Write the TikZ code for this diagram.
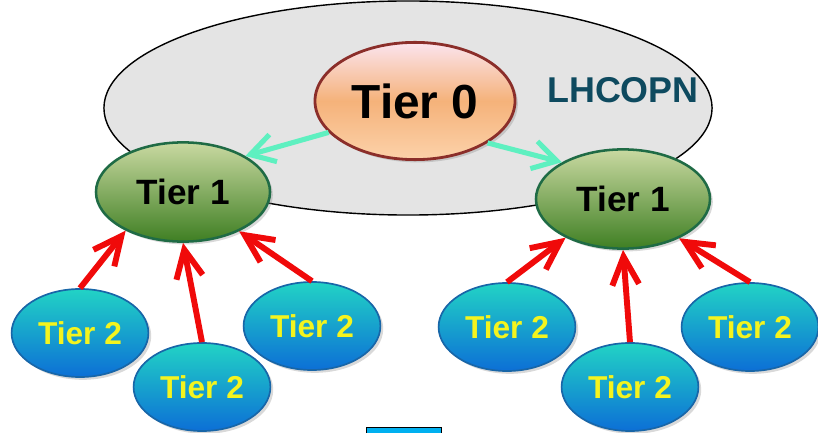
\documentclass[tikz,border=0pt]{standalone}
\usepackage{fontspec}
\setmainfont{Liberation Sans}
\usepackage{xcolor}
\usetikzlibrary{positioning, arrows.meta, shapes.geometric, shadows}

\definecolor{cloudgray}{HTML}{E4E4E4}
\definecolor{opntext}{HTML}{0E4A5F}
\definecolor{zerotop}{HTML}{FBE4EE}
\definecolor{zeromid}{HTML}{F5B27A}
\definecolor{zerobot}{HTML}{FCD2AA}
\definecolor{zeroline}{HTML}{8B2E2A}
\definecolor{onetop}{HTML}{C9D9A1}
\definecolor{onebot}{HTML}{3F7F23}
\definecolor{oneline}{HTML}{1F6B45}
\definecolor{twotop}{HTML}{22D3C5}
\definecolor{twobot}{HTML}{0C6FD6}
\definecolor{twoline}{HTML}{1866A8}
\definecolor{twotext}{HTML}{F4F41E}
\definecolor{uplinkred}{HTML}{F00A0A}
\definecolor{opnlink}{HTML}{5EF0C0}
\definecolor{barblue}{HTML}{00B0F0}

\begin{document}
\begin{tikzpicture}[
      x=0.025cm, y=-0.025cm,
      % Styling nodes
      base/.style={
        ellipse,
        inner sep=0pt,
        align=center,
        drop shadow={shadow xshift=2pt, shadow yshift=-2pt, opacity=0.3}
      },
      cloud/.style={ellipse, draw=black, line width=1pt, fill=cloudgray,
        minimum width=15.2cm, minimum height=5.35cm},
      tierzero/.style={base, draw=zeroline, line width=2pt,
        top color=zerotop, bottom color=zerobot, middle color=zeromid,
        minimum width=5cm, minimum height=2.93cm,
        font=\fontsize{34}{38}\selectfont\bfseries},
      tierone/.style={base, draw=oneline, line width=1.8pt,
        top color=onetop, bottom color=onebot,
        minimum width=4.35cm, minimum height=2.48cm,
        font=\fontsize{25}{28}\selectfont\bfseries},
      tiertwo/.style={base, draw=twoline, line width=1.2pt,
        top color=twotop, bottom color=twobot,
        minimum width=3.42cm, minimum height=2.2cm, text=twotext,
        font=\fontsize{22.5}{26}\selectfont\bfseries},
      opnarrow/.style={-{Straight Barb[length=17pt,width=20pt]}, line width=3.6pt, opnlink},
      uparrow/.style={-{Straight Barb[length=20pt,width=19pt]}, line width=4.2pt, uplinkred}
    ]
    \useasboundingbox (0,0) rectangle (818,433);

    % Optical private network
    \node (opn) [cloud] at (408,108) {};
    \node (opnlabel) [text=opntext, font=\fontsize{25.5}{28}\selectfont\bfseries] at (623,90) {LHCOPN};

    % Main tiers
    \node (t0) [tierzero] at (415,101) {Tier 0};
    \node (t1l) [tierone] at (183,192) {Tier 1};
    \node (t1r) [tierone] at (623,199) {Tier 1};

    % Tier 2 sites
    \node (t2a) [tiertwo] at (80,333) {Tier 2};
    \node (t2b) [tiertwo] at (202,387) {Tier 2};
    \node (t2c) [tiertwo] at (312,326) {Tier 2};
    \node (t2d) [tiertwo] at (507,327) {Tier 2};
    \node (t2e) [tiertwo] at (630,387) {Tier 2};
    \node (t2f) [tiertwo] at (750,327) {Tier 2};

    % Bar cut off at the bottom
    \node (bar) [draw=black, line width=0.8pt, fill=barblue, minimum width=1.88cm,
      minimum height=0.5cm, inner sep=0pt, anchor=north west] at (366,427) {};

    % Arrows
    % Tier 0 to Tier 1
    \draw[opnarrow] (t0.200) -- (t1l.30);
    \draw[opnarrow] (t0.-30) -- (t1r.149);

    % Tier 2 to Tier 1
    \draw[uparrow] (t2a.north) -- (t1l.214);
    \draw[uparrow] (t2b.north) -- (t1l.south);
    \draw[uparrow] (t2c.north) -- (t1l.-35);
    \draw[uparrow] (t2d.north) -- (t1r.214);
    \draw[uparrow] (t2e.north) -- (t1r.south);
    \draw[uparrow] (t2f.north) -- (t1r.-35);

  \end{tikzpicture}
\end{document}
